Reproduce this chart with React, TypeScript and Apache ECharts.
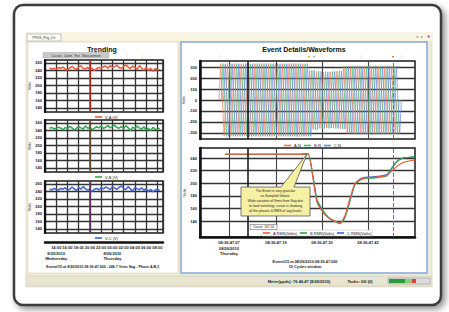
import React, { useEffect, useRef } from "react";
import * as echarts from "echarts";

const FONT = "'Liberation Sans', Arial, sans-serif";

// ---- Left: trending (hours on x) ----
const trendStart = 0.4;
const trendStep = 0.2;
const trendA = [247,244,246,243,248,246,249,244,241,247,251,246,243,249,253,245,244,248,242,246,240,245,248,246,250,252,246,253,248,250,254,247,246,251,255,249,245,252,248,243,253,246,241,249,240,246,238,245,241,243];
const trendB = [246,248,244,246,249,246,242,248,245,251,247,241,246,250,247,244,252,246,248,242,246,250,247,252,245,249,253,247,251,254,248,246,251,245,253,247,240,249,245,252,247,243,250,241,246,239,248,244,242,246];
const trendC = [246,244,248,246,244,248,246,250,244,246,252,247,243,250,246,253,247,244,246,240,246,248,244,250,247,252,249,245,253,249,246,251,255,248,245,253,247,241,251,247,245,250,243,248,240,246,239,244,246,242];
const trendYTicks = [140, 160, 180, 200, 220, 240, 260];
const trendXLabels = ["12:00","14:00","16:00","18:00","20:00","22:00","00:00","02:00","04:00","06:00","08:00"];
const trendDateLabels: Record<number, string> = { 1: "8/25/2010\nWednesday", 6: "8/26/2010\nThursday" };
const trendCursor = 3.95;
const trendNames = ["V-A (V)", "V-B (V)", "V-C (V)"];

// ---- Right top: waveform (peak amplitude per cycle) ----
const waveStart = 47.5;
const wavePeriod = 17.1;
const ampA = [330,332,331,330,333,331,330,332,331,330,332,331,330,268,258,255,257,262,305,310,312,311,310,312,311,309];
const ampB = [331,330,332,331,330,333,331,330,332,331,330,332,329,272,262,258,260,266,308,312,311,312,310,311,312,308];
const ampC = [330,331,330,332,331,330,332,331,330,331,333,330,331,270,260,256,259,264,306,311,310,312,311,310,311,307];
const waveYTicks = [-300, -200, -100, 0, 100, 200, 300];
const waveNames = ["A-N", "B-N", "C-N"];

// ---- Right bottom: RMS ----
const rmsT = [62.5,100,150,200,250,270,282.5,292.5,307.5,320,332.5,350,362.5,375,387.5,400,407.5,425,442.5,467.5,480,492.5,507.5,520,537.5];
const rmsA = [246,246,246,246,246,247,208,170,154,146,142,137,149,176,200,206,208,209,210,213,220,227,233,235,237];
const rmsB = [246,246,246,246,246,247,212,175,157,147,141,136,146,172,198,205,207,208,209,212,224,234,240,241,242];
const rmsC = [246,246,246,246,246,247,210,172,156,146,141,137,147,174,199,207,209,210,211,214,225,235,240,241,242];
const rmsYTicks = [140, 160, 180, 200, 220, 240];
const rmsNames = ["A RMS(Volts)", "B RMS(Volts)", "C RMS(Volts)"];

const timeTicks = [72.5, 190, 305, 420];
const timeLabels = ["08:36:47.07\n08/26/2010\nThursday", "08:36:47.19", "08:36:47.30", "08:36:47.42"];
const cursorMs = 120;
const eventEndMs = 482.5;

const RED = "#ec5b3a";
const GREEN = "#2fa84f";
const BLUE = "#4263d4";

function txt(x: number, y: number, text: string, size: number, opts: any = {}) {
  return {
    type: "text",
    x,
    y,
    z: opts.z ?? 50,
    style: {
      text,
      fontSize: size,
      fontFamily: FONT,
      fontWeight: opts.bold ? "bold" : "normal",
      fill: opts.fill ?? "#222",
      align: opts.align ?? "center",
      textAlign: opts.align ?? "center",
      verticalAlign: "middle",
      textVerticalAlign: "middle",
      lineHeight: opts.lh ?? size + 1,
    },
  };
}

function buildWave(amps: number[], phase: number) {
  const pts: number[][] = [[waveStart + phase * wavePeriod, 0]];
  amps.forEach((a, k) => {
    pts.push([waveStart + (k + phase + 0.25) * wavePeriod, a]);
    pts.push([waveStart + (k + phase + 0.75) * wavePeriod, -a]);
  });
  pts.push([waveStart + (amps.length + phase) * wavePeriod, 0]);
  return pts;
}

function buildOption() {
  const axisLabelBase = { fontSize: 4, color: "#222", fontFamily: FONT, fontWeight: "bold" as const };
  const grids: any[] = [
    { left: 45, top: 60, width: 118, height: 52 },
    { left: 45, top: 120, width: 118, height: 52 },
    { left: 45, top: 181, width: 118, height: 52 },
    { left: 200, top: 61, width: 215, height: 78 },
    { left: 200, top: 148, width: 215, height: 89 },
  ].map((g) => ({ ...g, show: true, borderColor: "#1a1a1a", borderWidth: 1.5, containLabel: false }));

  const xAxis: any[] = [];
  const yAxis: any[] = [];
  for (let i = 0; i < 3; i++) {
    xAxis.push({
      gridIndex: i,
      type: "value",
      min: 0,
      max: 10.5,
      interval: 1,
      offset: i === 2 ? 9 : 0,
      axisLine: { show: i === 2, onZero: false, lineStyle: { color: "#111", width: 2.5 } },
      axisTick: { show: false },
      axisLabel: {
        show: i === 2,
        ...axisLabelBase,
        lineHeight: 5.5,
        margin: 3,
        formatter: (v: number) => {
          const k = Math.round(v);
          let s = trendXLabels[k] ?? "";
          if (trendDateLabels[k]) s += "\n" + trendDateLabels[k];
          return s;
        },
      },
      splitLine: { show: true, lineStyle: { color: "#333", width: 1.3 } },
    });
    yAxis.push({
      gridIndex: i,
      type: "value",
      min: 129,
      max: 268,
      name: "Volts",
      nameLocation: "middle",
      nameGap: 12,
      nameTextStyle: { fontSize: 4, color: "#333", fontFamily: FONT },
      axisLine: { show: true, lineStyle: { color: "#111", width: 2.2 } },
      axisTick: { show: false, customValues: trendYTicks },
      axisLabel: { ...axisLabelBase, margin: 3, customValues: trendYTicks },
      splitLine: { show: true, lineStyle: { color: "#333", width: 1.3 } },
    });
  }
  // right top
  xAxis.push({
    gridIndex: 3,
    type: "value",
    min: 0,
    max: 537.5,
    axisLine: { show: false, onZero: false },
    axisTick: { show: false, customValues: timeTicks },
    axisLabel: { show: false, customValues: timeTicks },
    splitLine: { show: true, lineStyle: { color: "#444", width: 1.1 } },
  });
  yAxis.push({
    gridIndex: 3,
    type: "value",
    min: -355,
    max: 355,
    name: "Volts",
    nameLocation: "middle",
    nameGap: 13,
    nameTextStyle: { fontSize: 4, color: "#333", fontFamily: FONT },
    axisLine: { show: true, onZero: false, lineStyle: { color: "#111", width: 2.5 } },
    axisTick: { show: false, customValues: waveYTicks },
    axisLabel: { ...axisLabelBase, margin: 3, customValues: waveYTicks },
    splitLine: { show: true, lineStyle: { color: "#333", width: 1.3 } },
  });
  // right bottom
  xAxis.push({
    gridIndex: 4,
    type: "value",
    min: 0,
    max: 537.5,
    axisLine: { show: true, onZero: false, lineStyle: { color: "#111", width: 2.5 } },
    axisTick: { show: false, customValues: timeTicks },
    axisLabel: {
      ...axisLabelBase,
      margin: 3,
      lineHeight: 5.5,
      customValues: timeTicks,
      formatter: (v: number) => {
        const k = timeTicks.indexOf(v);
        return k >= 0 ? timeLabels[k] : "";
      },
    },
    splitLine: { show: true, lineStyle: { color: "#444", width: 1.1 } },
  });
  yAxis.push({
    gridIndex: 4,
    type: "value",
    min: 115,
    max: 256,
    name: "Volts",
    nameLocation: "middle",
    nameGap: 13,
    nameTextStyle: { fontSize: 4, color: "#333", fontFamily: FONT },
    axisLine: { show: true, onZero: false, lineStyle: { color: "#111", width: 2.5 } },
    axisTick: { show: false, customValues: rmsYTicks },
    axisLabel: { ...axisLabelBase, margin: 3, customValues: rmsYTicks },
    splitLine: { show: true, lineStyle: { color: "#333", width: 1.3 } },
  });

  const series: any[] = [];
  const trendData = [trendA, trendB, trendC];
  const trendColors = [RED, GREEN, BLUE];
  const cursorColors = ["#c62d1c", "#7b4d22", "#6e2e6a"];
  for (let i = 0; i < 3; i++) {
    series.push({
      type: "line",
      name: trendNames[i],
      xAxisIndex: i,
      yAxisIndex: i,
      data: trendData[i].map((v, j) => [trendStart + j * trendStep, v]),
      symbol: "none",
      lineStyle: { color: trendColors[i], width: 1.5 },
      itemStyle: { color: trendColors[i] },
      markLine: {
        symbol: "none",
        silent: true,
        label: { show: false },
        lineStyle: { color: cursorColors[i], width: 1.6, type: "solid" },
        data: [{ xAxis: trendCursor }],
      },
    });
  }
  const waveData = [buildWave(ampA, 0), buildWave(ampB, 1 / 3), buildWave(ampC, 2 / 3)];
  const waveColors = ["#f07458", "#45bb72", "#6585e6"];
  const cursorMark = {
    symbol: "none",
    silent: true,
    label: { show: false },
    data: [
      { xAxis: cursorMs, lineStyle: { color: "#111", width: 1.5, type: "solid" } },
      { xAxis: eventEndMs, lineStyle: { color: "#e0452e", width: 1, type: "dashed" } },
    ],
  };
  for (let i = 0; i < 3; i++) {
    series.push({
      type: "line",
      name: waveNames[i],
      xAxisIndex: 3,
      yAxisIndex: 3,
      data: waveData[i],
      symbol: "none",
      clip: false,
      lineStyle: { color: waveColors[i], width: 0.7 },
      itemStyle: { color: waveColors[i] },
      markLine: i === 2 ? cursorMark : undefined,
    });
  }
  const rmsData = [rmsA, rmsB, rmsC];
  const rmsColors = [RED, GREEN, BLUE];
  for (const i of [2, 1, 0]) {
    series.push({
      type: "line",
      name: rmsNames[i],
      xAxisIndex: 4,
      yAxisIndex: 4,
      data: rmsData[i].map((v, j) => [rmsT[j], v]),
      symbol: "none",
      smooth: 0.2,
      lineStyle: { color: rmsColors[i], width: 1.1 },
      itemStyle: { color: rmsColors[i] },
      markLine: i === 0 ? cursorMark : undefined,
    });
  }

  const legendBase = {
    orient: "horizontal",
    icon: "rect",
    itemWidth: 7,
    itemHeight: 1.6,
    itemGap: 3,
    padding: 1,
    textStyle: { fontSize: 4, color: "#222", fontFamily: FONT, padding: [0, 0, 0, -2] },
  };
  const legend = [
    { ...legendBase, data: [trendNames[0]], left: 94, top: 114 },
    { ...legendBase, data: [trendNames[1]], left: 94, top: 174 },
    { ...legendBase, data: [trendNames[2]], left: 94, top: 235 },
    { ...legendBase, data: waveNames, left: 283, top: 142.5 },
    { ...legendBase, data: rmsNames, left: 262, top: 230, backgroundColor: "#fff", borderColor: "#bbb", borderWidth: 0.5 },
  ];

  const elements: any[] = [
    // outer frame with shadow
    {
      type: "rect", z: -100,
      shape: { x: 14, y: 5, width: 427, height: 300, r: 9 },
      style: { fill: "#fff", stroke: "#3a3a3a", lineWidth: 2.5, shadowBlur: 6, shadowColor: "rgba(0,0,0,0.45)", shadowOffsetX: 3, shadowOffsetY: 3 },
    },
    // app window
    { type: "rect", z: -90, shape: { x: 26, y: 33, width: 406, height: 254 }, style: { fill: "#eeebd6", stroke: "#d8d4bc", lineWidth: 0.6 } },
    { type: "rect", z: -89, shape: { x: 26, y: 33, width: 406, height: 8 }, style: { fill: "#f8f5e3" } },
    { type: "rect", z: -88, shape: { x: 27, y: 34, width: 34, height: 7 }, style: { fill: "#fdfdf8", stroke: "#8a8a8a", lineWidth: 0.5 } },
    txt(44, 37.6, "PPDS_Pkg_0.0", 3.3, { fill: "#333" }),
    txt(417, 37, "◂", 3.5, { fill: "#888" }),
    txt(422, 37, "▸", 3.5, { fill: "#888" }),
    txt(428, 37, "✕", 3.5, { fill: "#333", bold: true }),
    // panels
    { type: "rect", z: -80, shape: { x: 28, y: 42, width: 150, height: 231 }, style: { fill: "#fff", stroke: "#d3cfb6", lineWidth: 0.6 } },
    { type: "rect", z: -80, shape: { x: 181, y: 42, width: 246, height: 231 }, style: { fill: "#fff", stroke: "#86a8dc", lineWidth: 1.5 } },
    // status bar
    { type: "rect", z: -85, shape: { x: 26, y: 276, width: 406, height: 10 }, style: { fill: "#e8e5d0", stroke: "#cfcbb2", lineWidth: 0.5 } },
    txt(299, 281, "Meter(ppds): 76.46.47 (8/26/2010)", 4, { bold: true }),
    txt(360, 281, "Tasks: 0/0 (0)", 4, { bold: true }),
    { type: "rect", z: 40, shape: { x: 388, y: 278, width: 42, height: 6 }, style: { fill: "#dcdcdc", stroke: "#888", lineWidth: 0.5 } },
    { type: "rect", z: 41, shape: { x: 389, y: 279, width: 16, height: 4 }, style: { fill: "#2e9a3d" } },
    { type: "rect", z: 41, shape: { x: 405, y: 279, width: 7, height: 4 }, style: { fill: "#8fcb7e" } },
    { type: "rect", z: 41, shape: { x: 412, y: 279, width: 4, height: 4 }, style: { fill: "#d6443a" } },
    // titles
    txt(102, 49, "Trending", 7, { bold: true, fill: "#111" }),
    txt(304, 49, "Event Details/Waveforms", 7, { bold: true, fill: "#111" }),
    // toolbar
    { type: "rect", z: 45, shape: { x: 43, y: 52.5, width: 66, height: 5.5 }, style: { fill: "#c9c9c9", stroke: "#9a9a9a", lineWidth: 0.4 } },
    txt(76, 55.3, "Cursors   Zoom   Pan   Measurement", 3, { fill: "#333" }),
    // tiny event flags
    txt(127, 57, "|", 3.5, { fill: "#999" }),
    txt(142, 57, "|", 3.5, { fill: "#b8a040" }),
    txt(150, 57, "|", 3.5, { fill: "#999" }),
    txt(220, 57, "|", 3.5, { fill: "#999" }),
    txt(309, 57, "▾", 3.5, { fill: "#d0a020" }),
    txt(314, 57, "▾", 3.5, { fill: "#999" }),
    txt(361, 57, "|", 3.5, { fill: "#999" }),
    txt(393, 57, "▾", 3.5, { fill: "#d04030" }),
    txt(402, 57, "|", 3.5, { fill: "#999" }),
    // footers
    txt(103, 267, "Event#15 at 8/26/2010 08:36:47.000 - 246.7 Vrms Sag - Phase A,B,C", 3.6, { bold: true }),
    txt(305, 262, "Event#15 at 08/26/2010 08:36:47.000", 3.8, { bold: true }),
    txt(305, 267, "10 Cycles window", 3.8, { bold: true }),
    // callout
    {
      type: "polygon", z: 60,
      shape: { points: [[241, 187], [281, 187], [307, 154], [294, 187], [310, 187], [310, 216], [241, 216]] },
      style: { fill: "#f6f0a2", stroke: "#555", lineWidth: 0.8 },
    },
    txt(275.5, 191, "The Event is very granular", 3.4, { z: 61 }),
    txt(275.5, 195.5, "as Sampled Values.", 3.4, { z: 61 }),
    txt(275.5, 201, "Wide variation of Vrms from Sag due", 3.4, { z: 61 }),
    txt(275.5, 206, "to load switching; cursor is showing", 3.4, { z: 61 }),
    txt(275.5, 211, "all the phases & RMS of sag levels.", 3.4, { z: 61 }),
    // cursor box
    { type: "rect", z: 60, shape: { x: 250, y: 224.5, width: 27, height: 5 }, style: { fill: "#fff", stroke: "#555", lineWidth: 0.5 } },
    txt(263.5, 227.2, "Cursor: 167.00", 3.2, { z: 61 }),
  ];

  return {
    animation: false,
    backgroundColor: "#ffffff",
    grid: grids,
    xAxis,
    yAxis,
    series,
    legend,
    graphic: { elements },
  };
}

export default function App() {
  const ref = useRef<HTMLDivElement>(null);
  useEffect(() => {
    const chart = echarts.init(ref.current!, undefined, { renderer: "svg", width: 449, height: 312 });
    chart.setOption(buildOption() as any);
    return () => chart.dispose();
  }, []);
  return <div ref={ref} style={{ position: "fixed", left: 0, top: 0, width: 449, height: 312 }} />;
}
